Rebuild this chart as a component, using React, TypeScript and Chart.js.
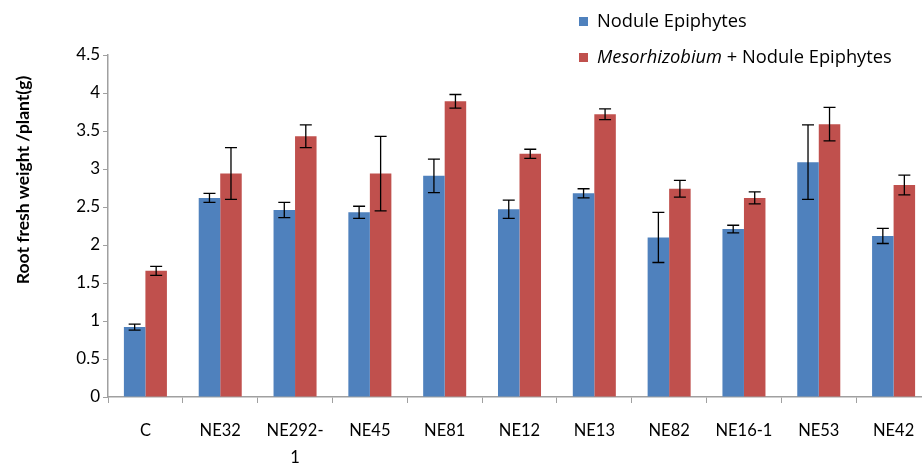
import React, { useEffect, useRef } from "react";
import { Chart, registerables } from "chart.js";

Chart.register(...registerables);

const categories: (string | string[])[] = ["C", "NE32", ["NE292-", "1"], "NE45", "NE81", "NE12", "NE13", "NE82", "NE16-1", "NE53", "NE42"];
const noduleValues = [0.92, 2.62, 2.46, 2.43, 2.91, 2.47, 2.68, 2.1, 2.21, 3.09, 2.12];
const noduleErrors = [0.04, 0.06, 0.1, 0.08, 0.22, 0.12, 0.06, 0.33, 0.05, 0.49, 0.1];
const mesoValues = [1.66, 2.94, 3.43, 2.94, 3.89, 3.2, 3.72, 2.74, 2.62, 3.59, 2.79];
const mesoErrors = [0.06, 0.34, 0.15, 0.49, 0.09, 0.06, 0.07, 0.11, 0.08, 0.22, 0.13];
const yTitle = "Root fresh weight /plant(g)";

const BLUE = "#4F81BD";
const RED = "#C0504D";
const FONT = "Lato, 'Open Sans', sans-serif";
const LEGEND_FONT = "'Open Sans', Lato, sans-serif";

const errorBarPlugin = {
  id: "errorBars",
  afterDatasetsDraw(chart: any) {
    const ctx = chart.ctx;
    const yScale = chart.scales.y;
    const errs = [noduleErrors, mesoErrors];
    ctx.save();
    ctx.strokeStyle = "#000";
    ctx.lineWidth = 1.3;
    chart.data.datasets.forEach((ds: any, di: number) => {
      const meta = chart.getDatasetMeta(di);
      meta.data.forEach((bar: any, i: number) => {
        const v = ds.data[i];
        const e = errs[di][i];
        const x = bar.x;
        const yt = yScale.getPixelForValue(v + e);
        const yb = yScale.getPixelForValue(v - e);
        ctx.beginPath();
        ctx.moveTo(x, yt);
        ctx.lineTo(x, yb);
        ctx.moveTo(x - 6, yt);
        ctx.lineTo(x + 6, yt);
        ctx.moveTo(x - 6, yb);
        ctx.lineTo(x + 6, yb);
        ctx.stroke();
      });
    });
    ctx.restore();
  },
};

const decorPlugin = {
  id: "decor",
  afterDraw(chart: any) {
    const ctx = chart.ctx;
    ctx.save();
    // y-axis title
    ctx.translate(23, 180);
    ctx.rotate(-Math.PI / 2);
    ctx.font = `bold 17.5px ${FONT}`;
    ctx.fillStyle = "#000";
    ctx.textAlign = "center";
    ctx.textBaseline = "middle";
    ctx.fillText(yTitle, 0, 0);
    ctx.restore();

    // legend
    ctx.save();
    ctx.textBaseline = "middle";
    ctx.fillStyle = BLUE;
    ctx.fillRect(579, 17, 9, 9);
    ctx.fillStyle = RED;
    ctx.fillRect(579, 53, 9, 9);
    ctx.fillStyle = "#000";
    ctx.font = `18.3px ${LEGEND_FONT}`;
    ctx.fillText("Nodule Epiphytes", 597, 22);
    ctx.font = `italic 18.3px ${LEGEND_FONT}`;
    ctx.fillText("Mesorhizobium", 597, 58);
    const w = ctx.measureText("Mesorhizobium").width;
    ctx.font = `18.3px ${LEGEND_FONT}`;
    ctx.fillText(" + Nodule Epiphytes", 597 + w, 58);
    ctx.restore();
  },
};

export default function App() {
  const ref = useRef<HTMLCanvasElement>(null);
  useEffect(() => {
    if (!ref.current) return;
    Chart.defaults.font.family = FONT;
    const chart = new Chart(ref.current, {
      type: "bar",
      data: {
        labels: categories,
        datasets: [
          { label: "Nodule Epiphytes", data: noduleValues, backgroundColor: BLUE, barPercentage: 1, categoryPercentage: 0.575 },
          { label: "Mesorhizobium + Nodule Epiphytes", data: mesoValues, backgroundColor: RED, barPercentage: 1, categoryPercentage: 0.575 },
        ],
      },
      options: {
        animation: false,
        responsive: false,
        layout: { padding: { top: 55, right: 9, left: 0, bottom: 0 } },
        plugins: { legend: { display: false }, tooltip: { enabled: false } },
        scales: {
          x: {
            grid: { display: true, drawOnChartArea: false, tickLength: 6, color: "#A0A0A0", offset: true },
            border: { color: "#A0A0A0", width: 1.5 },
            ticks: { color: "#000", font: { size: 16.5, family: FONT, lineHeight: 1.65 }, padding: 14, maxRotation: 0, autoSkip: false },
            afterFit(scale: any) {
              scale.height = 67;
            },
          },
          y: {
            min: 0,
            max: 4.5,
            ticks: {
              stepSize: 0.5,
              color: "#000",
              font: { size: 17, family: FONT },
              padding: 3,
              callback: (v: any) => String(Number(v)),
            },
            grid: { display: true, drawOnChartArea: false, tickLength: 5, color: "#A0A0A0" },
            border: { color: "#A0A0A0", width: 1.5 },
            afterFit(scale: any) {
              scale.width = 108;
            },
          },
        },
      },
      plugins: [errorBarPlugin, decorPlugin],
    });
    return () => chart.destroy();
  }, []);
  return (
    <div style={{ position: "fixed", left: 0, top: 0, width: 922, height: 464, overflow: "hidden", background: "#fff" }}>
      <canvas ref={ref} width={940} height={464} style={{ width: 940, height: 464, display: "block" }} />
    </div>
  );
}
